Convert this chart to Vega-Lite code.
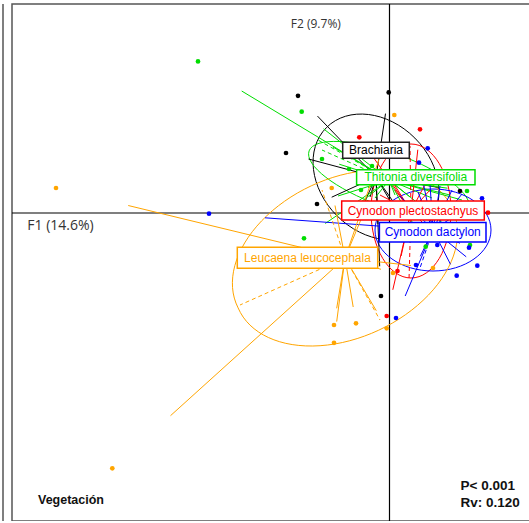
{
  "$schema": "https://vega.github.io/schema/vega-lite/v6.json",
  "width": 522,
  "height": 517,
  "autosize": {"type": "none"},
  "padding": {"left": 12, "top": 4, "right": 0, "bottom": 0},
  "background": "white",
  "view": {"stroke": "#555555", "strokeWidth": 1.5},
  "config": {"view": {"stroke": "#555555", "strokeWidth": 1.5}},
  "datasets": {
    "one": [{"k": 1}],
    "cent": [
      {"g": "B", "cx": -0.135, "cy": 0.36},
      {"g": "T", "cx": -0.005, "cy": 0.33},
      {"g": "P", "cx": 0.215, "cy": 0.02},
      {"g": "D", "cx": 0.435, "cy": -0.17},
      {"g": "L", "cx": -0.445, "cy": -0.45}
    ],
    "lab": [
      {"g": "B", "x": -0.135, "y": 0.627, "t": "Brachiaria"},
      {"g": "T", "x": 0.263, "y": 0.357, "t": "Thitonia diversifolia"},
      {"g": "P", "x": 0.235, "y": 0.025, "t": "Cynodon plectostachyus"},
      {"g": "D", "x": 0.432, "y": -0.193, "t": "Cynodon dactylon"},
      {"g": "L", "x": -0.82, "y": -0.448, "t": "Leucaena leucocephala"}
    ],
    "pts": [
      {"g": "B", "x": -0.915, "y": 1.172}, {"g": "B", "x": -0.008, "y": 1.206}, {"g": "B", "x": -1.035, "y": 0.6},
      {"g": "B", "x": -0.725, "y": 0.09}, {"g": "B", "x": 0.705, "y": 0.22}, {"g": "B", "x": -0.085, "y": -0.83},
      {"g": "T", "x": -1.915, "y": 1.516}, {"g": "T", "x": -0.878, "y": 1.013}, {"g": "T", "x": -0.675, "y": 0.54},
      {"g": "T", "x": -0.405, "y": 0.44}, {"g": "T", "x": -0.175, "y": 0.47}, {"g": "T", "x": -0.285, "y": 0.23},
      {"g": "T", "x": 0.775, "y": 0.22}, {"g": "T", "x": 0.805, "y": -0.32}, {"g": "T", "x": 0.362, "y": -0.337},
      {"g": "T", "x": -0.855, "y": -0.253},
      {"g": "P", "x": 0.305, "y": 0.837}, {"g": "P", "x": -0.302, "y": 0.757}, {"g": "P", "x": 0.985, "y": 0.003},
      {"g": "P", "x": 0.08, "y": -0.58}, {"g": "P", "x": -0.028, "y": -1.03},
      {"g": "D", "x": -1.805, "y": -0.007}, {"g": "D", "x": 0.382, "y": 0.647}, {"g": "D", "x": 0.295, "y": 0.503},
      {"g": "D", "x": 0.925, "y": 0.147}, {"g": "D", "x": 0.478, "y": -0.32}, {"g": "D", "x": 0.795, "y": -0.347},
      {"g": "D", "x": 0.265, "y": -0.52}, {"g": "D", "x": 0.878, "y": -0.527}, {"g": "D", "x": 0.672, "y": -0.627},
      {"g": "D", "x": 0.065, "y": -1.05},
      {"g": "L", "x": -3.335, "y": 0.25}, {"g": "L", "x": -2.772, "y": -2.553}, {"g": "L", "x": 0.048, "y": 0.98},
      {"g": "L", "x": -0.578, "y": 0.25}, {"g": "L", "x": -0.555, "y": -1.12}, {"g": "L", "x": -0.335, "y": -1.103},
      {"g": "L", "x": -0.555, "y": -1.298}, {"g": "L", "x": -0.028, "y": -1.153}, {"g": "L", "x": 0.435, "y": -0.55},
      {"g": "L", "x": 0.035, "y": -0.6}
    ],
    "star": [
      {"g": "B", "ex": -0.72, "ey": 0.969}, {"g": "B", "ex": -0.04, "ey": 0.994}, {"g": "B", "ex": -0.81, "ey": 0.54},
      {"g": "B", "ex": -0.578, "ey": 0.158}, {"g": "B", "ex": 0.495, "ey": 0.255}, {"g": "B", "ex": -0.098, "ey": -0.533},
      {"g": "B", "ex": -0.115, "ey": -0.11}, {"g": "B", "ex": 0.085, "ey": -0.01}, {"g": "B", "ex": -0.295, "ey": 0.01},
      {"g": "B", "ex": -0.195, "ey": 0.16}, {"g": "B", "ex": 0.025, "ey": 0.13},
      {"g": "T", "ex": -1.478, "ey": 1.22}, {"g": "T", "ex": -0.66, "ey": 0.842}, {"g": "T", "ex": -0.503, "ey": 0.488},
      {"g": "T", "ex": -0.305, "ey": 0.413}, {"g": "T", "ex": -0.133, "ey": 0.435}, {"g": "T", "ex": -0.215, "ey": 0.255},
      {"g": "T", "ex": 0.58, "ey": 0.248}, {"g": "T", "ex": 0.603, "ey": -0.158}, {"g": "T", "ex": 0.27, "ey": -0.17},
      {"g": "T", "ex": -0.643, "ey": -0.105}, {"g": "T", "ex": -0.515, "ey": 0.17}, {"g": "T", "ex": -0.335, "ey": 0.07},
      {"g": "T", "ex": 0.425, "ey": 0.15}, {"g": "T", "ex": 0.725, "ey": 0.13}, {"g": "T", "ex": -0.565, "ey": 0.66},
      {"g": "T", "ex": 0.055, "ey": 0.18}, {"g": "T", "ex": 0.205, "ey": 0.16}, {"g": "T", "ex": -0.145, "ey": 0.15},
      {"g": "T", "ex": 0.605, "ey": 0.18},
      {"g": "P", "ex": 0.283, "ey": 0.633}, {"g": "P", "ex": -0.173, "ey": 0.573}, {"g": "P", "ex": 0.793, "ey": 0.007},
      {"g": "P", "ex": 0.116, "ey": -0.43}, {"g": "P", "ex": 0.033, "ey": -0.768}, {"g": "P", "ex": -0.045, "ey": 0.43},
      {"g": "P", "ex": 0.505, "ey": -0.27}, {"g": "P", "ex": 0.405, "ey": 0.38},
      {"g": "P", "ex": 0.055, "ey": 0.23}, {"g": "P", "ex": -0.095, "ey": 0.18}, {"g": "P", "ex": 0.405, "ey": 0.23},
      {"g": "D", "ex": -1.245, "ey": -0.048}, {"g": "D", "ex": 0.395, "ey": 0.443}, {"g": "D", "ex": 0.33, "ey": 0.335},
      {"g": "D", "ex": 0.803, "ey": 0.068}, {"g": "D", "ex": 0.467, "ey": -0.283}, {"g": "D", "ex": 0.705, "ey": -0.303},
      {"g": "D", "ex": 0.308, "ey": -0.433}, {"g": "D", "ex": 0.767, "ey": -0.438}, {"g": "D", "ex": 0.61, "ey": -0.513},
      {"g": "D", "ex": 0.157, "ey": -0.83}, {"g": "D", "ex": 0.505, "ey": 0.27}, {"g": "D", "ex": 0.625, "ey": 0.23},
      {"g": "D", "ex": 0.285, "ey": 0.21}, {"g": "D", "ex": 0.105, "ey": 0.17}, {"g": "D", "ex": 0.725, "ey": 0.19},
      {"g": "L", "ex": -2.613, "ey": 0.075}, {"g": "L", "ex": -2.19, "ey": -2.027}, {"g": "L", "ex": -0.075, "ey": 0.622},
      {"g": "L", "ex": -0.545, "ey": 0.075}, {"g": "L", "ex": -0.528, "ey": -0.953}, {"g": "L", "ex": -0.363, "ey": -0.94},
      {"g": "L", "ex": -0.528, "ey": -1.086}, {"g": "L", "ex": -0.132, "ey": -0.977}, {"g": "L", "ex": 0.215, "ey": -0.525},
      {"g": "L", "ex": -0.085, "ey": -0.563}, {"g": "L", "ex": -0.225, "ey": 0.08}
    ],
    "dash": [
      {"g": "L", "ex": -1.495, "ey": -0.92}, {"g": "L", "ex": -0.675, "ey": 0.23}, {"g": "L", "ex": -0.095, "ey": -1.07},
      {"g": "T", "ex": -0.715, "ey": 0.73}, {"g": "T", "ex": -0.675, "ey": 0.63},
      {"g": "P", "ex": 0.205, "ey": 0.67}, {"g": "P", "ex": 0.195, "ey": -0.67},
      {"g": "D", "ex": 0.305, "ey": -0.55}
    ]
  },
  "layer": [
    {
      "data": {"name": "one"},
      "mark": {"type": "rule", "color": "#555555", "strokeWidth": 1.5},
      "encoding": {"x": {"datum": -3.865, "type": "quantitative", "scale": {"domain": [-3.775, 1.445], "nice": false, "zero": false}, "axis": null}}
    },
    {
      "data": {"name": "one"},
      "mark": {"type": "rule", "color": "#000000", "strokeWidth": 1.2},
      "encoding": {"x": {"datum": 0, "type": "quantitative", "scale": {"domain": [-3.775, 1.445], "nice": false, "zero": false}, "axis": null}}
    },
    {
      "data": {"name": "one"},
      "mark": {"type": "rule", "color": "#000000", "strokeWidth": 1.2},
      "encoding": {"y": {"datum": 0, "type": "quantitative", "scale": {"domain": [-3.08, 2.09], "nice": false, "zero": false}, "axis": null}}
    },
    {
      "data": {"name": "cent"},
      "mark": {"type": "point", "size": 4, "filled": false, "strokeWidth": 1, "opacity": 1},
      "encoding": {
        "x": {"field": "cx", "type": "quantitative", "axis": null},
        "y": {"field": "cy", "type": "quantitative", "axis": null},
        "shape": {"field": "g", "type": "nominal", "legend": null, "scale": {"domain": ["B", "T", "P", "D", "L"], "range": [
          "M49.5,49.5A70,55,45,1,1,-49.5,-49.5A70,55,45,1,1,49.5,49.5Z",
          "M79.9,29.1A85,27,20,1,1,-79.9,-29.1A85,27,20,1,1,79.9,29.1Z",
          "M0,67A40,67,0,1,1,0,-67A40,67,0,1,1,0,67Z",
          "M-58,0A58,41,0,1,1,58,0A58,41,0,1,1,-58,0Z",
          "M-106.9,49.9A118,78,155,1,1,106.9,-49.9A118,78,155,1,1,-106.9,49.9Z"]}},
        "color": {"field": "g", "type": "nominal", "legend": null, "scale": {"domain": ["B", "T", "P", "D", "L"], "range": ["#000000", "#00DD00", "#FF0000", "#0000FF", "#FFA500"]}}
      }
    },
    {
      "data": {"name": "star"},
      "transform": [{"lookup": "g", "from": {"data": {"name": "cent"}, "key": "g", "fields": ["cx", "cy"]}}],
      "mark": {"type": "rule", "strokeWidth": 1},
      "encoding": {
        "x": {"field": "cx", "type": "quantitative", "axis": null},
        "y": {"field": "cy", "type": "quantitative", "axis": null},
        "x2": {"field": "ex"},
        "y2": {"field": "ey"},
        "color": {"field": "g", "type": "nominal", "legend": null}
      }
    },
    {
      "data": {"name": "dash"},
      "transform": [{"lookup": "g", "from": {"data": {"name": "cent"}, "key": "g", "fields": ["cx", "cy"]}}],
      "mark": {"type": "rule", "strokeWidth": 1, "strokeDash": [4, 3]},
      "encoding": {
        "x": {"field": "cx", "type": "quantitative", "axis": null},
        "y": {"field": "cy", "type": "quantitative", "axis": null},
        "x2": {"field": "ex"},
        "y2": {"field": "ey"},
        "color": {"field": "g", "type": "nominal", "legend": null}
      }
    },
    {
      "data": {"name": "pts"},
      "mark": {"type": "circle", "size": 22, "opacity": 1},
      "encoding": {
        "x": {"field": "x", "type": "quantitative", "axis": null},
        "y": {"field": "y", "type": "quantitative", "axis": null},
        "color": {"field": "g", "type": "nominal", "legend": null}
      }
    },
    {
      "data": {"name": "lab"},
      "mark": {"type": "point", "size": 4, "filled": true, "fill": "white", "strokeWidth": 1.5, "opacity": 1},
      "encoding": {
        "x": {"field": "x", "type": "quantitative", "axis": null},
        "y": {"field": "y", "type": "quantitative", "axis": null},
        "shape": {"field": "g", "type": "nominal", "legend": null, "scale": {"domain": ["B", "T", "P", "D", "L"], "range": [
          "M-33.3,-8H33.3V8H-33.3Z",
          "M-59.2,-7.5H59.2V7.5H-59.2Z",
          "M-71.3,-9.5H71.3V9.5H-71.3Z",
          "M-53.3,-9.7H53.3V9.7H-53.3Z",
          "M-70.2,-10.5H70.2V10.5H-70.2Z"]}},
        "stroke": {"field": "g", "type": "nominal", "legend": null, "scale": {"domain": ["B", "T", "P", "D", "L"], "range": ["#222222", "#00DD00", "#FF0000", "#0000FF", "#FFA500"]}}
      }
    },
    {
      "data": {"name": "lab"},
      "mark": {"type": "text", "font": "Liberation Sans", "fontSize": 12, "align": "center", "baseline": "middle"},
      "encoding": {
        "x": {"field": "x", "type": "quantitative", "axis": null},
        "y": {"field": "y", "type": "quantitative", "axis": null},
        "text": {"field": "t"},
        "color": {"field": "g", "type": "nominal", "legend": null}
      }
    },
    {
      "data": {"values": [{"x": -0.987, "y": 1.894, "t": "F2 (9.7%)"}]},
      "mark": {"type": "text", "font": "Open Sans", "fontSize": 12, "align": "left", "baseline": "middle", "color": "#333333"},
      "encoding": {
        "x": {"field": "x", "type": "quantitative", "axis": null},
        "y": {"field": "y", "type": "quantitative", "axis": null},
        "text": {"field": "t"}
      }
    },
    {
      "data": {"values": [{"x": -3.622, "y": -0.128, "t": "F1 (14.6%)"}]},
      "mark": {"type": "text", "font": "Open Sans", "fontSize": 14, "align": "left", "baseline": "middle", "color": "#333333"},
      "encoding": {
        "x": {"field": "x", "type": "quantitative", "axis": null},
        "y": {"field": "y", "type": "quantitative", "axis": null},
        "text": {"field": "t"}
      }
    },
    {
      "data": {"values": [{"x": -3.515, "y": -2.87, "t": "Vegetación"}]},
      "mark": {"type": "text", "font": "Liberation Sans", "fontSize": 12.5, "fontWeight": "bold", "align": "left", "baseline": "middle", "color": "#111111"},
      "encoding": {
        "x": {"field": "x", "type": "quantitative", "axis": null},
        "y": {"field": "y", "type": "quantitative", "axis": null},
        "text": {"field": "t"}
      }
    },
    {
      "data": {"values": [{"x": 0.71, "y": -2.726, "t": "P< 0.001"}, {"x": 0.71, "y": -2.895, "t": "Rv: 0.120"}]},
      "mark": {"type": "text", "font": "Liberation Sans", "fontSize": 13.5, "fontWeight": "bold", "align": "left", "baseline": "middle", "color": "#111111"},
      "encoding": {
        "x": {"field": "x", "type": "quantitative", "axis": null},
        "y": {"field": "y", "type": "quantitative", "axis": null},
        "text": {"field": "t"}
      }
    }
  ],
  "resolve": {"scale": {"shape": "independent"}}
}
